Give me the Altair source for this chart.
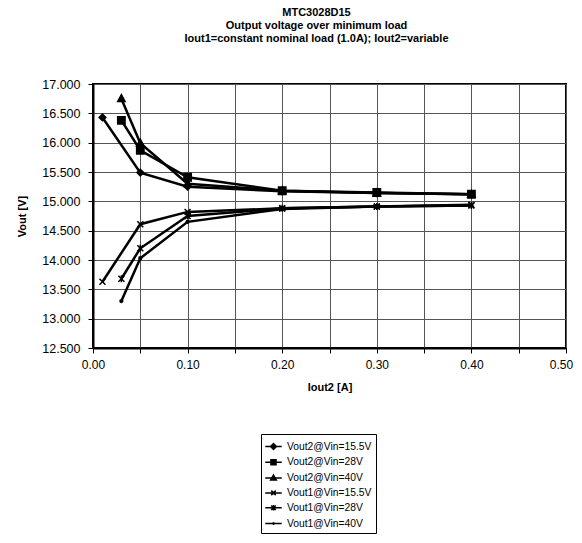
import altair as alt
import pandas as pd

series_names = ["Vout2@Vin=15.5V", "Vout2@Vin=28V", "Vout2@Vin=40V",
                "Vout1@Vin=15.5V", "Vout1@Vin=28V", "Vout1@Vin=40V"]
iout2_a = [0.01, 0.05, 0.10, 0.20, 0.30, 0.40]
iout2_b = [0.03, 0.05, 0.10, 0.20, 0.30, 0.40]
vout2_155 = [16.43, 15.49, 15.25, 15.17, 15.14, 15.12]
vout2_28 = [16.38, 15.87, 15.41, 15.18, 15.15, 15.12]
vout2_40 = [16.75, 15.99, 15.30, 15.18, 15.14, 15.12]
vout1_155 = [13.63, 14.61, 14.82, 14.88, 14.91, 14.94]
vout1_28 = [13.68, 14.20, 14.75, 14.88, 14.91, 14.93]
vout1_40 = [13.30, 14.03, 14.65, 14.87, 14.91, 14.93]

x_ticks = [0.0, 0.05, 0.10, 0.15, 0.20, 0.25, 0.30, 0.35, 0.40, 0.45, 0.50]
y_ticks = [12.5, 13.0, 13.5, 14.0, 14.5, 15.0, 15.5, 16.0, 16.5, 17.0]

rows = []
for name, xs, ys in [
    (series_names[0], iout2_a, vout2_155),
    (series_names[1], iout2_b, vout2_28),
    (series_names[2], iout2_b, vout2_40),
    (series_names[3], iout2_a, vout1_155),
    (series_names[4], iout2_b, vout1_28),
    (series_names[5], iout2_b, vout1_40),
]:
    for x, y in zip(xs, ys):
        rows.append({"series": name, "iout2": x, "vout": y})
df = pd.DataFrame(rows)

FONT = "Liberation Sans"

# marker shapes, drawn at a common size of 49 (1 unit = 3.5 px)
marker_paths = [
    "M0,-0.95L0.95,0L0,0.95L-0.95,0Z",
    "M-1.05,-1.05H1.05V1.05H-1.05Z",
    "M0,-1.15L1.05,0.8H-1.05Z",
    "M-0.85,-0.85L0.85,0.85M-0.85,0.85L0.85,-0.85",
    "M-0.85,-0.85L0.85,0.85M-0.85,0.85L0.85,-0.85M0,-1V1",
    "M-0.4,0A0.4,0.4,0,1,1,0.4,0A0.4,0.4,0,1,1,-0.4,0Z",
]
# legend symbols: a short line with a small (stroked) marker on it
legend_paths = [
    "M-1.1,0H1.1M0,-0.38L0.38,0L0,0.38L-0.38,0ZM0,-0.18L0.18,0L0,0.18L-0.18,0Z",
    "M-1.1,0H1.1M-0.34,-0.34H0.34V0.34H-0.34ZM-0.15,-0.15H0.15V0.15H-0.15Z",
    "M-1.1,0H1.1M0,-0.4L0.38,0.26H-0.38ZM0,-0.18L0.16,0.14H-0.16Z",
    "M-1.1,0H1.1M-0.3,-0.3L0.3,0.3M-0.3,0.3L0.3,-0.3",
    "M-1.1,0H1.1M-0.3,-0.3L0.3,0.3M-0.3,0.3L0.3,-0.3M0,-0.36V0.36",
    "M-1.1,0H1.1M-0.1,0A0.1,0.1,0,1,1,0.1,0A0.1,0.1,0,1,1,-0.1,0Z",
]

xscale = alt.Scale(domain=[0, 0.5], nice=False, zero=False)
yscale = alt.Scale(domain=[12.5, 17.0], nice=False, zero=False)

xaxis = alt.Axis(values=x_ticks,
                 labelExpr="round(datum.value*100) % 10 == 0 ? format(datum.value, '.2f') : ''",
                 labelFlush=False, labelOverlap=False,
                 labelOffset={"condition": {"test": "datum.value > 0.49", "value": -5},
                              "value": 0},
                 titlePadding=11, labelPadding=6)
yaxis = alt.Axis(values=y_ticks, format=".3f", labelFlush=False, labelFontSize=12.5,
                 labelOverlap=False, titlePadding=14, labelPadding=8)

xenc = alt.X("iout2:Q", scale=xscale, title="Iout2 [A]", axis=xaxis)
yenc = alt.Y("vout:Q", scale=yscale, title="Vout [V]", axis=yaxis)

base = alt.Chart(df)

lines = base.mark_line(color="black", strokeWidth=2.5).encode(
    x=xenc, y=yenc, detail="series:N")

points = base.mark_point(filled=True, color="black", stroke="black", strokeWidth=1.5,
                         opacity=1, size=49).encode(
    x=xenc, y=yenc,
    shape=alt.Shape("series:N", scale=alt.Scale(domain=series_names, range=marker_paths),
                    legend=None),
)

legend_layer = base.transform_calculate(
    label="datum.series", xoff="-1"
).mark_point(filled=False, color="black", strokeWidth=1.5,
             size=225, clip=True, opacity=1).encode(
    x=alt.X("xoff:Q", scale=xscale, title="Iout2 [A]", axis=xaxis),
    y=yenc,
    shape=alt.Shape("label:N",
                    scale=alt.Scale(domain=series_names, range=legend_paths),
                    legend=alt.Legend(
                        title=None, orient="none", legendX=168, legendY=350,
                        strokeColor="black", fillColor="white", padding=4,
                        labelFont=FONT, labelFontSize=10.3, labelColor="black",
                        symbolSize=225, labelOffset=5, rowPadding=0.8, cornerRadius=0,
                        symbolStrokeColor="black",
                        symbolStrokeWidth=1.5, symbolOpacity=1)),
)

chart = alt.layer(lines, points, legend_layer).resolve_scale(
    shape="independent"
).properties(
    width=473, height=264,
    autosize=alt.AutoSizeParams(type="none"),
    padding={"left": 85, "top": 76, "right": 8, "bottom": 187},
    title=alt.Title(
        text=["MTC3028D15", "Output voltage over minimum load",
              "Iout1=constant nominal load (1.0A); Iout2=variable"],
        font=FONT, fontSize=11, fontWeight="bold", color="black",
        anchor="middle", offset=34, dx=-13, lineHeight=13),
).configure_view(
    stroke="black", strokeWidth=2
).configure_axis(
    grid=True, gridColor="#555555", gridWidth=1,
    domainColor="black", domainWidth=2,
    tickColor="black", tickSize=5, tickWidth=1,
    labelFont=FONT, labelFontSize=12, labelColor="black",
    titleFont=FONT, titleFontSize=11, titleFontWeight="bold", titleColor="black",
)

chart.save("out.html", embed_options={"renderer": "svg", "actions": False})
